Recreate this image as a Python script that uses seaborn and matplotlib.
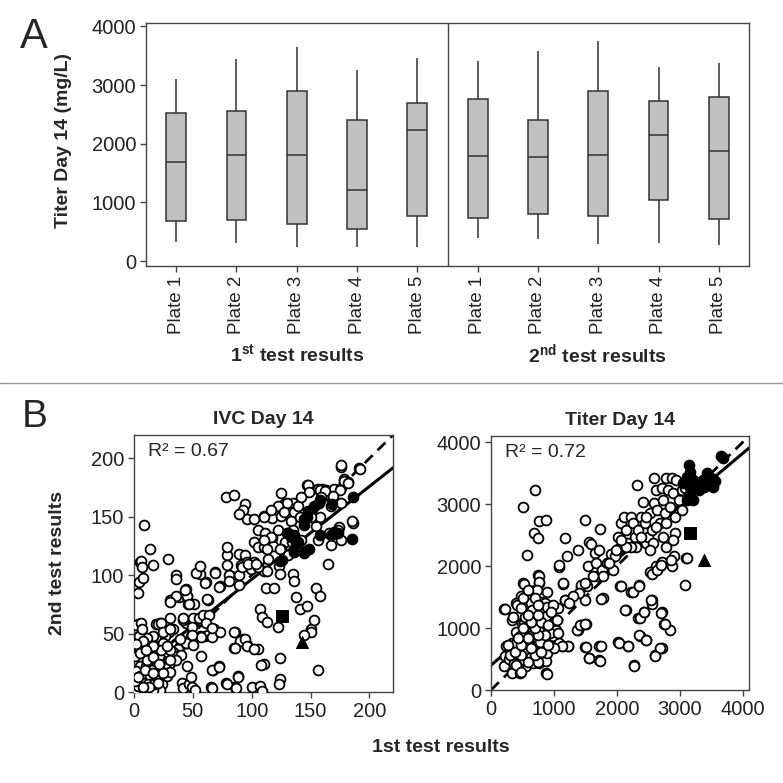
import numpy as np
import pandas as pd
import matplotlib
matplotlib.use("Agg")
import matplotlib.pyplot as plt
import seaborn as sns
from matplotlib.lines import Line2D

# ---- panel A: five-number summaries (min, q1, median, q3, max)
plates = ["Plate 1", "Plate 2", "Plate 3", "Plate 4", "Plate 5"]
first_test = [
    [330, 675, 1690, 2515, 3105],
    [310, 700, 1805, 2550, 3450],
    [240, 635, 1815, 2890, 3640],
    [240, 545, 1205, 2410, 3255],
    [240, 760, 2225, 2685, 3465],
]
second_test = [
    [390, 725, 1795, 2765, 3405],
    [370, 795, 1770, 2410, 3585],
    [285, 760, 1805, 2905, 3755],
    [300, 1040, 2150, 2720, 3315],
    [270, 715, 1880, 2790, 3375],
]

# ---- panel B: IVC Day 14 (1st test, 2nd test)
ivc_open = [
    (8.5, 143), (5, 111), (6, 112), (7, 107), (3, 85), (4, 94), (8, 98), (14, 122), (16, 109), (29, 114),
    (3, 58), (2, 57), (6, 59), (36, 100), (36, 97), (31, 79), (38, 81), (44, 88), (45, 82), (46, 75),
    (51, 75), (56, 101), (61, 94), (63, 79), (69, 103), (73, 91), (82, 99), (79, 117), (79, 124),
    (78, 167), (85, 169), (94, 161), (93, 156), (96, 148), (89, 152), (102, 148), (110, 151), (117, 149),
    (125, 151), (125, 170), (89, 118), (94, 117), (91, 109), (96, 111), (99, 105), (105, 139), (102, 128),
    (105, 124), (110, 124), (111, 136), (117, 132), (118, 125), (114, 114), (110, 104), (113, 104),
    (112, 89), (119, 89), (102, 111), (105, 107), (127, 161), (131, 158), (135, 162), (136, 154),
    (139, 159), (133, 146), (135, 139), (131, 136), (128, 128), (125, 122), (123, 108), (124, 101),
    (131, 117), (135, 101), (136, 95), (147, 177), (150, 174), (156, 174), (160, 174), (163, 173),
    (170, 174), (176, 175), (176, 193), (178, 182), (182, 180), (191, 192), (186, 145), (174, 141),
    (165, 110), (155, 142), (153, 150), (158, 150), (167, 159),
    (107, 71), (109, 64), (113, 60), (122, 56), (124, 29), (124, 11), (123, 7), (110, 24), (105, 37),
    (96, 40), (93, 45), (86, 51), (85, 38), (88, 14), (86, 4), (78, 8), (72, 22), (67, 19), (65, 4),
    (100, 4), (107, 5), (109, 1), (138, 81), (141, 71), (147, 74), (150, 54), (153, 62), (150, 51),
    (144, 49), (155, 89), (158, 82), (156, 19),
    (41, 8), (42, 3), (47, 7), (48, 13), (49, 4), (52, 2), (45, 22), (41, 42), (45, 42), (48, 48),
    (44, 59), (42, 62), (49, 62), (56, 62), (60, 62), (62, 65), (56, 48), (60, 48), (63, 49), (68, 54),
    (66, 47), (73, 51), (57, 31), (39, 39), (37, 37),
    (31, 63), (33, 54), (30, 51), (26, 48), (22, 59), (19, 58), (16, 48), (11, 46), (14, 39), (19, 39),
    (24, 38), (28, 34), (33, 34), (35, 31), (31, 25), (26, 23), (22, 26), (17, 28), (12, 31), (8, 27),
    (5, 22), (2, 18), (5, 14), (10, 14), (14, 14), (19, 11), (24, 7), (22, 2), (16, 2), (11, 3), (5, 3),
    (1, 1), (3, 5), (8, 8), (12, 7), (17, 7), (1, 9), (2, 42), (3, 37), (1, 31), (5, 34), (9, 39),
    (4, 48), (7, 54), (10, 22), (15, 19), (24, 17), (28, 14), (31, 17), (21, 31), (16, 34), (25, 42),
    (53, 102), (56, 108), (69, 102), (60, 93), (72, 90), (81, 100), (81, 95), (89, 92), (89, 100),
    (92, 107), (97, 110), (104, 110), (79, 109), (36, 82), (31, 77), (45, 82), (43, 87), (47, 75),
    (62, 80), (42, 63), (50, 63), (49, 56), (55, 63), (59, 66), (64, 66), (61, 59), (66, 55), (57, 47),
    (49, 49), (44, 42), (50, 40), (40, 32), (36, 27), (31, 36), (20, 58), (23, 59), (8, 44), (2, 41),
    (85, 51), (90, 44), (86, 38), (94, 45), (96, 39), (102, 37), (108, 23), (66, 19), (72, 21),
    (88, 13), (79, 7), (87, 3), (66, 3), (25, 16), (20, 8), (13, 4), (8, 4), (3, 13), (11, 27), (16, 30),
    (21, 24), (23, 36), (25, 51), (31, 54), (5, 33), (9, 19), (16, 16), (31, 27), (28, 39), (16, 39),
    (10, 36), (39, 45),
    (176, 194), (192, 191), (178, 181), (175, 173), (182, 179), (185, 146), (148, 177), (158, 173),
    (162, 172), (149, 171), (159, 167), (169, 168), (176, 162), (142, 167), (130, 162), (122, 159),
    (116, 156), (110, 150), (127, 154), (141, 150), (173, 139), (176, 130), (166, 136), (167, 126),
    (156, 130), (150, 150), (116, 133), (122, 139), (110, 130), (113, 122), (124, 122), (134, 128),
    (142, 130),
]
ivc_filled = [
    (130, 136), (136, 134), (138, 127), (136, 120), (145, 121), (149, 122), (144, 148), (148, 155),
    (153, 159), (158, 164), (168, 161), (158, 134), (167, 134), (170, 137), (185, 131), (186, 167),
    (126, 113), (147, 150), (144, 143), (157, 162), (173, 136), (133, 133), (139, 128), (144, 119),
    (124, 112),
]
ivc_square = [(126, 65)]
ivc_triangle = [(143, 43)]
ivc_fit = (17, 0.795)      # intercept, slope of the solid line
ivc_r2 = "0.67"

# ---- panel B: Titer Day 14 (1st test, 2nd test)
titer_open = [
    (702, 3227), (511, 2948), (575, 2187), (681, 2530), (766, 2728), (872, 2744), (745, 2450), (213, 1308),
    (511, 1726), (479, 1522), (404, 1404), (447, 1190), (340, 1136), (404, 933), (500, 1083), (596, 1136),
    (638, 1404), (702, 1619), (745, 1855), (766, 1726), (793, 1426), (819, 1297), (734, 1029), (638, 922),
    (553, 761), (447, 654), (340, 761), (245, 707), (223, 547), (213, 386), (340, 279), (458, 279),
    (553, 386), (660, 440), (766, 440), (872, 268), (872, 461), (819, 654), (926, 761), (979, 868),
    (1032, 976), (926, 1083), (872, 1190), (990, 1361), (1064, 1318), (1032, 1136), (979, 707),
    (1085, 761), (1149, 707), (1224, 718), (936, 1361), (862, 1404), (755, 1351), (660, 1297),
    (585, 1619), (532, 1083), (458, 868), (638, 707), (713, 707), (766, 761), (660, 600), (564, 600),
    (479, 547), (372, 547), (287, 493), (362, 440), (447, 440), (532, 482), (628, 536), (702, 600),
    (851, 707), (894, 600), (936, 922), (819, 976), (755, 954), (691, 868), (606, 868), (543, 868),
    (309, 654), (394, 761), (500, 761),
    (222, 1307), (349, 1178), (413, 1371), (508, 1484), (524, 1710), (762, 1839), (762, 1742),
    (730, 1613), (587, 1613), (540, 1178), (476, 1323), (651, 1290), (794, 1323), (889, 1339),
    (984, 1371), (952, 1258), (1047, 1129), (1063, 920), (1174, 1452), (1143, 1710), (1079, 1984),
    (1381, 968), (1428, 1048), (1508, 1065), (1492, 1452), (1428, 1661), (1524, 1677), (1222, 710),
    (1127, 710), (1000, 677), (270, 726), (302, 565), (397, 403), (476, 290), (889, 258), (746, 452),
    (587, 452), (698, 565), (794, 613), (476, 565), (381, 613), (476, 726), (635, 677), (778, 774),
    (905, 726), (857, 887), (746, 887), (587, 839), (429, 839), (698, 1000), (794, 1097), (635, 1097),
    (508, 1000), (905, 1048), (587, 1210), (746, 1210), (698, 1484), (889, 1581), (746, 1371),
    (1075, 2021), (1181, 2455), (1213, 2155), (1170, 1458), (1149, 1726), (1383, 2262), (1426, 1699),
    (1490, 2744), (1554, 2391), (1596, 2358), (1543, 1994), (1649, 2208), (1671, 2048), (1724, 2262),
    (1734, 2605), (1692, 1833), (1766, 1940), (1777, 1490), (1841, 2048), (1905, 2198), (1936, 1940),
    (1968, 2155), (2011, 2476), (2043, 2316), (2064, 2691), (2107, 2798), (2149, 2584), (2181, 2369),
    (2224, 2787), (2256, 2691), (2288, 2476), (2320, 3307), (2341, 2584), (2383, 2798), (2415, 3034),
    (2447, 2691), (2469, 2369), (2500, 2476), (2532, 2852), (2553, 2584), (2585, 3420), (2596, 3013),
    (2628, 3227), (2639, 2905), (2681, 2691), (2713, 3259), (2734, 3066), (2766, 2852), (2788, 3414),
    (2820, 3227), (2851, 2959), (2873, 3414), (2894, 3173), (2926, 2798), (2947, 3387), (2990, 3066),
    (3043, 2905), (3032, 3227), (3086, 3259), (2788, 2691), (2734, 2476), (2628, 2637), (2575, 2369),
    (2532, 2262), (2469, 2798), (2383, 2476), (2309, 2316), (2224, 2316), (2149, 2316), (2064, 2423),
    (1989, 2262), (1883, 2048), (1787, 1833), (1617, 1833), (1490, 1726), (1405, 1565), (1298, 1512),
    (1245, 1404),
    (2883, 1994), (2915, 2155), (2926, 2530), (2894, 2423), (2628, 2005), (2681, 1994), (2713, 2074),
    (2788, 2316), (2532, 1897), (3096, 2133), (3086, 1694), (2054, 1683), (2224, 1576), (2351, 1694),
    (2139, 1286), (2341, 1158), (2437, 1265), (2553, 1447), (2553, 1383), (2713, 1254), (2756, 1072),
    (2851, 965), (2362, 879), (2458, 815), (2022, 772), (2181, 707), (2277, 397), (2607, 557),
    (2713, 675), (1490, 697), (1564, 520), (1724, 718), (1724, 482), (1373, 965), (1415, 1056),
    (1490, 1067), (1756, 1469), (1508, 694), (1556, 516), (1746, 710), (1730, 468), (2031, 758),
    (2174, 710), (2269, 387), (2127, 1290), (2349, 887), (2460, 806), (2365, 1161), (2428, 1258),
    (2539, 1452), (2698, 1242), (2761, 1065), (2682, 677), (2603, 548), (2063, 1677), (2254, 1581),
    (2349, 1677), (2555, 1871), (2634, 1936), (2698, 2016), (2857, 2097), (3111, 2129),
]
titer_filled = [
    (3139, 3634), (3160, 3522), (3107, 3441), (3213, 3387), (3266, 3334), (3160, 3280), (3192, 3227),
    (3139, 3141), (3213, 3066), (3118, 3066), (3309, 3227), (3373, 3387), (3426, 3495), (3490, 3430),
    (3564, 3377), (3532, 3270), (3383, 3270), (3660, 3784), (3681, 3752), (3054, 3334),
]
titer_square = [(3160, 2541)]
titer_triangle = [(3383, 2101)]
titer_fit = (400, 0.855)
titer_r2 = "0.72"

sns.set_theme(style="white")
plt.rcParams["font.family"] = ["Liberation Sans", "DejaVu Sans"]
plt.rcParams["mathtext.fontset"] = "custom"
plt.rcParams["mathtext.rm"] = "Liberation Sans"
plt.rcParams["mathtext.bf"] = "Liberation Sans:bold"

W = 783.0
fig = plt.figure(figsize=(7.83, 7.83), dpi=100)


def px_axes(left, top, right, bottom):
    return fig.add_axes([left / W, 1 - bottom / W, (right - left) / W, (bottom - top) / W])


def frame(ax):
    for sp in ax.spines.values():
        sp.set_visible(True)
        sp.set_color("#444444")
        sp.set_linewidth(1.0)
    ax.tick_params(direction="out", length=4, width=1, color="#444444", labelsize=14.5,
                   labelcolor="#222222", left=True, bottom=True, pad=3)


# ---------------- panel A ----------------
rows = []
for i, stats in enumerate(first_test + second_test):
    for v in stats:
        rows.append({"slot": i, "titer": v})
box_df = pd.DataFrame(rows)

axA = px_axes(146, 23, 749, 266)
sns.boxplot(data=box_df, x="slot", y="titer", order=list(range(10)), whis=(0, 100),
            width=0.33, color="#c0c0c0", saturation=1, linecolor="#333333", linewidth=1.1,
            showcaps=False, ax=axA)
axA.axvline(4.5, color="#444444", lw=1)
axA.set_xlim(-0.5, 9.5)
axA.set_ylim(-85, 4057)
axA.set_yticks([0, 1000, 2000, 3000, 4000])
axA.set_xticks(range(10))
axA.set_xticklabels(plates * 2, rotation=90)
axA.set_xlabel("")
axA.set_ylabel("")
frame(axA)
axA.tick_params(axis="x", labelsize=13.5)

fig.text(63 / W, 1 - 140 / W, "Titer Day 14 (mg/L)", rotation=90, ha="center", va="center",
         fontsize=14, fontweight="bold")
fig.text(297 / W, 1 - 355 / W, r"1$^{\mathbf{st}}$ test results", ha="center", va="center",
         fontsize=14, fontweight="bold")
fig.text(598 / W, 1 - 355 / W, r"2$^{\mathbf{nd}}$ test results", ha="center", va="center",
         fontsize=14, fontweight="bold")
fig.text(20 / W, 1 - 37 / W, "A", fontsize=30, ha="left", va="center")
fig.text(22 / W, 1 - 417 / W, "B", fontsize=28, ha="left", va="center")
fig.add_artist(Line2D([0, 1], [1 - 383 / W, 1 - 383 / W], color="#999999", lw=1))


# ---------------- panel B ----------------
def scatter_panel(ax, open_pts, filled_pts, square, triangle, fit, r2, lim, ticks, title):
    cols = ["first", "second"]
    o = pd.DataFrame(open_pts, columns=cols)
    f = pd.DataFrame(filled_pts, columns=cols)
    sq = pd.DataFrame(square, columns=cols)
    tr = pd.DataFrame(triangle, columns=cols)
    xs = np.array([0, lim])
    sns.lineplot(x=xs, y=xs, ax=ax, color="black", lw=2, linestyle=(0, (4, 2.5)))
    sns.lineplot(x=xs, y=fit[0] + fit[1] * xs, ax=ax, color="black", lw=2.2)
    sns.scatterplot(data=o, x="first", y="second", ax=ax, marker="o", s=50,
                    facecolor="white", edgecolor="black", linewidth=1.3, zorder=3)
    sns.scatterplot(data=f, x="first", y="second", ax=ax, marker="o", s=55,
                    color="black", edgecolor="black", linewidth=1, zorder=4)
    sns.scatterplot(data=sq, x="first", y="second", ax=ax, marker="s", s=70,
                    color="black", edgecolor="black", zorder=4)
    sns.scatterplot(data=tr, x="first", y="second", ax=ax, marker="^", s=75,
                    color="black", edgecolor="black", zorder=4)
    ax.set_xlim(0, lim)
    ax.set_ylim(0, lim)
    ax.set_xticks(ticks)
    ax.set_yticks(ticks)
    ax.set_xlabel("")
    ax.set_ylabel("")
    ax.set_title(title, fontsize=14, fontweight="bold", pad=8)
    ax.text(0.055, 0.935, "R\u00b2 = " + r2, transform=ax.transAxes, fontsize=14,
            ha="left", va="center")
    frame(ax)


axB1 = px_axes(134, 435, 393, 692)
scatter_panel(axB1, ivc_open, ivc_filled, ivc_square, ivc_triangle, ivc_fit, ivc_r2,
              220, [0, 50, 100, 150, 200], "IVC Day 14")
axB2 = px_axes(491, 436, 749, 690)
scatter_panel(axB2, titer_open, titer_filled, titer_square, titer_triangle, titer_fit, titer_r2,
              4100, [0, 1000, 2000, 3000, 4000], "Titer Day 14")

fig.text(58 / W, 1 - 563 / W, "2nd test results", rotation=90, ha="center", va="center",
         fontsize=14, fontweight="bold")
fig.text(441 / W, 1 - 748 / W, "1st test results", ha="center", va="center",
         fontsize=14, fontweight="bold")

fig.savefig("out.png", dpi=100)
